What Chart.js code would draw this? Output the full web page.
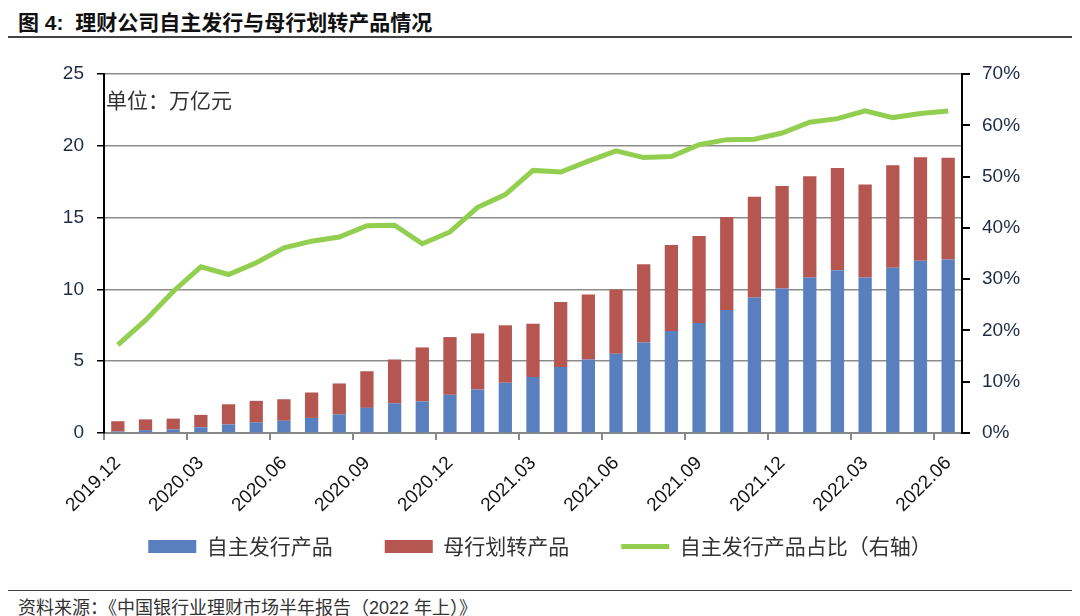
<!DOCTYPE html>
<html>
<head>
<meta charset="utf-8">
<script src="https://cdn.jsdelivr.net/npm/chart.js@4.4.0/dist/chart.umd.min.js"></script>
<style>
  body { margin: 0; width: 1080px; height: 616px; background: #fff; position: relative; overflow: hidden;
         font-family: "Liberation Sans", "Noto Sans CJK SC", sans-serif; }
  #title { position: absolute; left: 18px; top: 6px; font-size: 21px; font-weight: bold; color: #111; }
  #topline { position: absolute; left: 8px; right: 8px; top: 36px; height: 2px; background: #444; }
  #botline { position: absolute; left: 8px; right: 8px; top: 590px; height: 1px; background: #444; }
  #source { position: absolute; left: 18px; top: 593px; font-size: 18px; color: #333; }
  #wrap { position: absolute; left: 0; top: 40px; width: 1080px; height: 537px; }
</style>
</head>
<body>
<div id="title">图 4:&nbsp; 理财公司自主发行与母行划转产品情况</div>
<div id="topline"></div>
<div id="wrap"><canvas id="chart"></canvas></div>
<div id="botline"></div>
<div id="source">资料来源：《中国银行业理财市场半年报告（2022 年上）》</div>
<script>
// monthly data, 2019.12 - 2022.06
const months = [
  '2019.12', '2020.01', '2020.02', '2020.03', '2020.04', '2020.05', '2020.06', '2020.07',
  '2020.08', '2020.09', '2020.10', '2020.11', '2020.12', '2021.01', '2021.02', '2021.03',
  '2021.04', '2021.05', '2021.06', '2021.07', '2021.08', '2021.09', '2021.10', '2021.11',
  '2021.12', '2022.01', '2022.02', '2022.03', '2022.04', '2022.05', '2022.06'
];

// 自主发行产品 (万亿元)
const selfIssued = [
  0.10, 0.20, 0.25, 0.40, 0.60, 0.75, 0.85, 1.05, 1.30, 1.75, 2.07, 2.20, 2.66, 3.03, 3.50, 3.90,
  4.60, 5.12, 5.52, 6.31, 7.10, 7.66, 8.57, 9.43, 10.06, 10.83, 11.34, 10.83, 11.50, 12.00, 12.08
];

// 母行划转产品 (万亿元)
const transferred = [
  0.72, 0.75, 0.75, 0.86, 1.40, 1.49, 1.50, 1.77, 2.15, 2.55, 3.05, 3.76, 4.02, 3.91, 4.00, 3.71,
  4.53, 4.52, 4.48, 5.45, 6.00, 6.05, 6.47, 7.03, 7.14, 7.05, 7.12, 6.47, 7.15, 7.20, 7.08
];

// 自主发行产品占比 (%)
const selfShare = [
  17.2, 22.0, 27.6, 32.4, 30.9, 33.2, 36.1, 37.4, 38.2, 40.4, 40.5, 36.9, 39.2, 44.0, 46.5, 51.2,
  50.9, 53.0, 55.0, 53.7, 53.9, 56.2, 57.2, 57.3, 58.5, 60.6, 61.3, 62.8, 61.5, 62.3, 62.8
];

const unitLabel = {
  id: 'unitLabel',
  afterDraw(chart) {
    const { ctx, chartArea } = chart;
    ctx.save();
    ctx.font = '21px "Noto Sans CJK SC"';
    ctx.fillStyle = '#333';
    ctx.textBaseline = 'middle';
    ctx.fillText('单位：万亿元', chartArea.left + 2, chartArea.top + 26);
    ctx.restore();
  }
};

new Chart(document.getElementById('chart'), {
  data: {
    labels: months,
    datasets: [
      {
        type: 'bar', label: '自主发行产品', data: selfIssued, yAxisID: 'y',
        backgroundColor: '#5a7fbf', pointStyle: 'rect', order: 1,
        barPercentage: 0.48, categoryPercentage: 1
      },
      {
        type: 'bar', label: '母行划转产品', data: transferred, yAxisID: 'y',
        backgroundColor: '#b55650', pointStyle: 'rect', order: 1,
        barPercentage: 0.48, categoryPercentage: 1
      },
      {
        type: 'line', label: '自主发行产品占比（右轴）', data: selfShare, yAxisID: 'y1',
        borderColor: '#92cf50', backgroundColor: '#92cf50', borderWidth: 5,
        pointRadius: 0, pointStyle: 'line', tension: 0, order: 0
      }
    ]
  },
  options: {
    responsive: true,
    maintainAspectRatio: false,
    animation: false,
    layout: { padding: { top: 34, left: 0, right: 0, bottom: 10 } },
    plugins: {
      tooltip: { enabled: false },
      legend: {
        position: 'bottom',
        labels: {
          usePointStyle: true, pointStyleWidth: 48, boxHeight: 13,
          padding: 10, color: '#333',
          font: { family: '"Noto Sans CJK SC"', size: 21 },
          sort: (a, b) => a.datasetIndex - b.datasetIndex,
          // widen the gap between items without growing the legend height
          generateLabels: chart => {
            const items = Chart.defaults.plugins.legend.labels.generateLabels(chart);
            items.forEach(it => { if (it.datasetIndex < 2) it.text += '\u3000\u3000'; });
            return items;
          }
        }
      }
    },
    scales: {
      x: {
        stacked: true,
        offset: true,
        grid: {
          offset: true, drawOnChartArea: false, tickLength: 7,
          color: ctx => (ctx.index % 3 === 0 ? '#888' : 'rgba(0,0,0,0)'), lineWidth: 2
        },
        border: { color: '#888', width: 2 },
        ticks: {
          autoSkip: false, minRotation: 45, maxRotation: 45, color: '#111', padding: 12,
          font: { family: '"Liberation Sans"', size: 19 },
          callback: function (v, i) { return i % 3 === 0 ? this.getLabelForValue(v) : ''; }
        },
        afterFit: s => { s.height = 93; }
      },
      y: {
        stacked: true, position: 'left', min: 0, max: 25,
        ticks: { stepSize: 5, color: '#1f2a44', padding: 13, font: { family: '"Liberation Sans"', size: 19 } },
        grid: { color: '#8c8c8c', lineWidth: 1.5, tickLength: 7, tickColor: '#000' },
        border: { color: '#000', width: 2 },
        afterFit: s => { s.width = 104; }
      },
      y1: {
        position: 'right', min: 0, max: 70,
        ticks: {
          stepSize: 10, color: '#1f2a44', padding: 12, font: { family: '"Liberation Sans"', size: 19 },
          callback: v => v + '%'
        },
        grid: { drawOnChartArea: false, tickLength: 8, tickColor: '#000', lineWidth: 2 },
        border: { color: '#000', width: 2 },
        afterFit: s => { s.width = 118; }
      }
    }
  },
  plugins: [unitLabel]
});
</script>
</body>
</html>
